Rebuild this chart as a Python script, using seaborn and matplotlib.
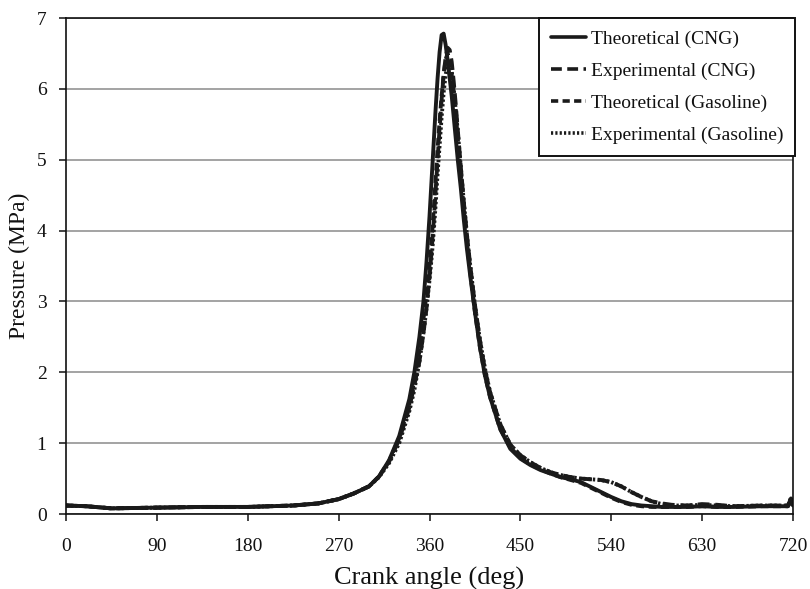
import numpy as np
import pandas as pd
import matplotlib
matplotlib.use("Agg")
import matplotlib.pyplot as plt
import seaborn as sns

# ---- data ----
angle = [0, 20, 45, 90, 135, 180, 225, 250, 270, 285, 300, 310, 320, 330, 340, 345,
         350, 354, 357, 360, 362, 364, 366, 368, 370, 372, 374, 376, 378, 380, 382,
         384, 386, 388, 391, 394, 397, 400, 405, 410, 415, 420, 430, 440, 450, 460,
         470, 480, 490, 500, 510, 520, 530, 540, 550, 560, 570, 580, 590, 600, 615,
         630, 645, 660, 690, 715, 718, 720]

theo_cng = [0.12, 0.11, 0.08, 0.09, 0.10, 0.10, 0.12, 0.15, 0.21, 0.29, 0.39, 0.53, 0.76, 1.10, 1.62, 2.00,
            2.50, 3.00, 3.55, 4.20, 4.70, 5.20, 5.70, 6.15, 6.52, 6.76, 6.78, 6.62, 6.40, 6.15, 5.90,
            5.60, 5.30, 5.00, 4.60, 4.15, 3.75, 3.40, 2.85, 2.35, 1.95, 1.65, 1.20, 0.92, 0.78, 0.69,
            0.62, 0.57, 0.52, 0.49, 0.45, 0.38, 0.31, 0.24, 0.18, 0.14, 0.12, 0.11, 0.10, 0.10, 0.10,
            0.11, 0.10, 0.10, 0.11, 0.11, 0.20, 0.12]

exp_cng = [0.12, 0.11, 0.08, 0.09, 0.10, 0.10, 0.12, 0.15, 0.21, 0.29, 0.39, 0.53, 0.74, 1.05, 1.50, 1.82,
           2.15, 2.55, 2.90, 3.35, 3.70, 4.10, 4.55, 5.00, 5.45, 5.85, 6.20, 6.45, 6.58, 6.55, 6.38,
           6.10, 5.78, 5.42, 4.90, 4.40, 3.95, 3.55, 2.95, 2.45, 2.03, 1.72, 1.27, 0.98, 0.83, 0.73,
           0.65, 0.59, 0.55, 0.52, 0.50, 0.49, 0.48, 0.45, 0.39, 0.31, 0.24, 0.18, 0.15, 0.13, 0.12,
           0.14, 0.13, 0.11, 0.12, 0.12, 0.22, 0.13]

theo_gas = [0.12, 0.11, 0.08, 0.09, 0.10, 0.10, 0.12, 0.15, 0.21, 0.29, 0.39, 0.53, 0.75, 1.07, 1.55, 1.88,
            2.30, 2.75, 3.10, 3.50, 3.85, 4.25, 4.70, 5.15, 5.55, 5.90, 6.20, 6.42, 6.50, 6.40, 6.20,
            5.95, 5.65, 5.30, 4.80, 4.30, 3.85, 3.45, 2.85, 2.35, 1.95, 1.65, 1.20, 0.94, 0.79, 0.70,
            0.63, 0.57, 0.52, 0.48, 0.44, 0.37, 0.30, 0.23, 0.17, 0.13, 0.11, 0.10, 0.10, 0.10, 0.10,
            0.11, 0.10, 0.10, 0.11, 0.11, 0.19, 0.12]

exp_gas = [0.12, 0.11, 0.08, 0.09, 0.10, 0.10, 0.12, 0.15, 0.21, 0.29, 0.39, 0.52, 0.72, 1.00, 1.45, 1.75,
           2.15, 2.55, 2.90, 3.30, 3.60, 3.95, 4.35, 4.80, 5.20, 5.60, 5.95, 6.20, 6.35, 6.38, 6.25,
           6.00, 5.70, 5.40, 4.90, 4.40, 3.95, 3.55, 2.95, 2.45, 2.05, 1.72, 1.27, 0.98, 0.83, 0.73,
           0.65, 0.59, 0.55, 0.52, 0.50, 0.49, 0.48, 0.45, 0.39, 0.31, 0.24, 0.18, 0.14, 0.12, 0.12,
           0.13, 0.12, 0.11, 0.12, 0.12, 0.23, 0.13]

series_names = ["Theoretical (CNG)", "Experimental (CNG)",
                "Theoretical (Gasoline)", "Experimental (Gasoline)"]
x_ticks = [0, 90, 180, 270, 360, 450, 540, 630, 720]
y_ticks = [0, 1, 2, 3, 4, 5, 6, 7]

# ---- build long table ----
frames = []
for name, vals in zip(series_names, [theo_cng, exp_cng, theo_gas, exp_gas]):
    frames.append(pd.DataFrame({"angle": angle, "pressure": vals, "series": name}))
df = pd.concat(frames, ignore_index=True)

sns.set_theme(style="white")
plt.rcParams["font.family"] = ["Liberation Serif", "DejaVu Serif"]

fig = plt.figure(figsize=(8.10, 5.89), dpi=100)
ax = fig.add_axes([0.0815, 0.1273, 0.8975, 0.8421])

dash_map = {
    "Theoretical (CNG)": "",
    "Experimental (CNG)": (3.0, 1.5),
    "Theoretical (Gasoline)": (2.0, 1.2),
    "Experimental (Gasoline)": (0.6, 0.6),
}

sns.lineplot(data=df, x="angle", y="pressure", style="series",
             style_order=series_names, dashes=dash_map, color="#1a1a1a",
             linewidth=2.8, sort=False, estimator=None, ax=ax, legend=True)

ax.set_xlim(0, 720)
ax.set_ylim(0, 7)
ax.set_xticks(x_ticks)
ax.set_yticks(y_ticks)
ax.yaxis.grid(True, color="#8a8a8a", linewidth=1.1)
ax.xaxis.grid(False)
for s in ax.spines.values():
    s.set_visible(True)
    s.set_color("#111111")
    s.set_linewidth(1.2)

ax.tick_params(axis="x", direction="out", length=5, width=1.1, color="#111111",
               pad=12, labelsize=14, labelcolor="#111111", bottom=True)
ax.tick_params(axis="y", direction="out", length=5, width=1.1, color="#111111",
               pad=9, labelsize=14, labelcolor="#111111", left=True)

ax.set_xlabel("Crank angle (deg)", fontsize=19, color="#111111", labelpad=9)
ax.set_ylabel("Pressure (MPa)", fontsize=17, color="#111111", labelpad=5)

handles, labels = ax.get_legend_handles_labels()
for h in handles:
    h.set_linewidth(2.6)
leg = ax.legend(handles, labels, loc="upper right", bbox_to_anchor=(1.003, 1.0),
                fontsize=14.0, frameon=True, fancybox=False, edgecolor="#111111",
                framealpha=1, borderaxespad=0, handlelength=1.8, handletextpad=0.25,
                labelspacing=0.74, borderpad=0.62)
leg.get_frame().set_linewidth(1.4)
for t in leg.get_texts():
    t.set_color("#111111")

fig.savefig("out.png", dpi=100)
